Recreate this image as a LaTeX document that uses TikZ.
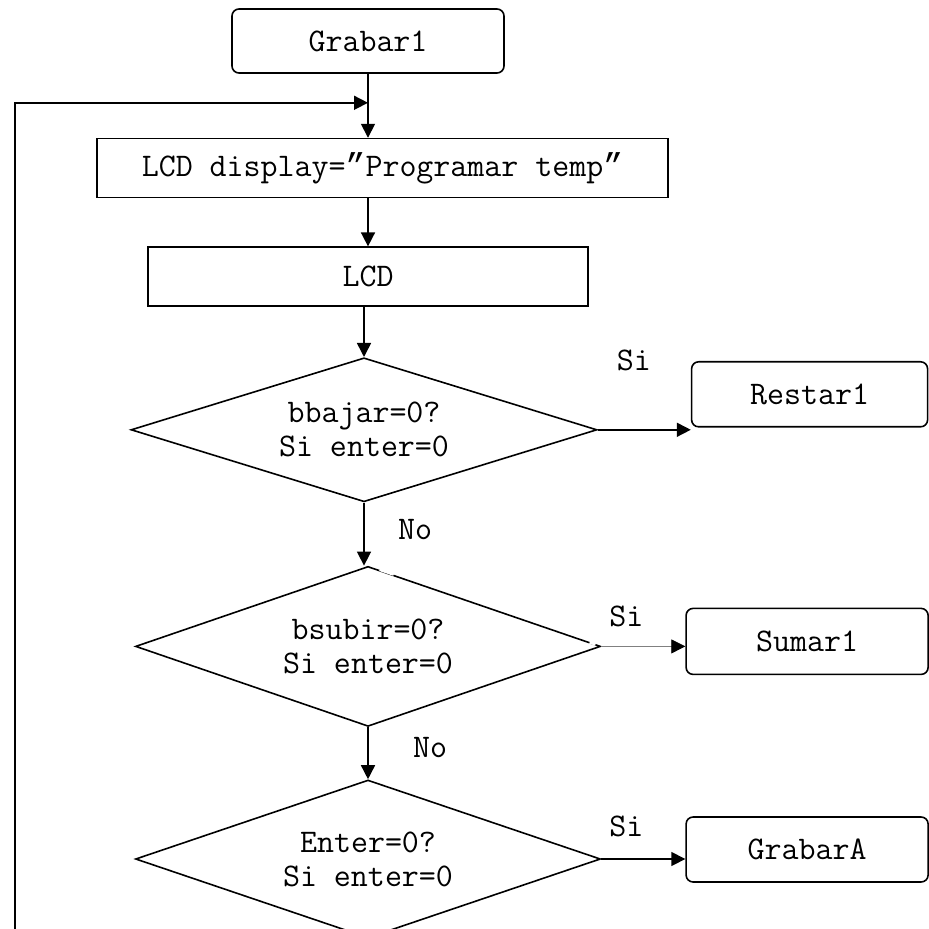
\documentclass[tikz,border=0pt]{standalone}
\usepackage{fontspec}
\newfontfamily\quotefont{Liberation Mono}
\usetikzlibrary{arrows.meta,positioning,shapes.geometric,calc}
\newcommand{\chartfont}{\ttfamily\fontsize{16.5pt}{17pt}\selectfont}
\newcommand{\dispquote}{{\quotefont ”}}

\begin{document}
\begin{tikzpicture}[
  x=0.5pt, y=-0.5pt,
  line width=0.8pt,
  term/.style={draw, rounded corners=3.5pt, align=center, inner sep=0pt, font=\chartfont},
  proc/.style={draw, align=center, inner sep=0pt, font=\chartfont},
  cond/.style={draw, diamond, align=center, inner xsep=-40pt, inner ysep=-14pt, font=\chartfont},
  lbl/.style={inner sep=0pt, font=\chartfont},
  arr/.style={-{Triangle[length=7pt,width=7pt]}},
  arrthin/.style={-{Triangle[length=7pt,width=7pt,color=black]}, line width=0.4pt, gray}
]
\useasboundingbox (0,0) rectangle (928,929);

\node[term, minimum width=136pt, minimum height=32pt] (grab1) at (368,41) {Grabar1};
\node[proc, minimum width=285.5pt, minimum height=29.5pt, below=32pt of grab1, xshift=7.25pt] (lcdmsg) {LCD display=\dispquote Programar temp\dispquote};
\node[proc, minimum width=220pt, minimum height=29.5pt, below=24pt of lcdmsg, xshift=-7.25pt] (lcd) {LCD};
\node[cond, minimum width=233pt, minimum height=72pt, below=25pt of lcd, xshift=-2pt] (dia1) {bbajar=0?\\Si enter=0};
\node[cond, minimum width=232.5pt, minimum height=80pt, below=31.5pt of dia1, xshift=2pt] (dia2) {bsubir=0?\\Si enter=0};
\node[cond, minimum width=232.5pt, minimum height=79pt, below=26pt of dia2] (dia3) {Enter=0?\\Si enter=0};

\node[term, minimum width=118pt, minimum height=32.5pt, right=46.5pt of dia1, yshift=17.75pt] (restar) {Restar1};
\node[term, minimum width=121pt, minimum height=33pt, right=42pt of dia2, yshift=2.5pt] (sumar) {Sumar1};
\node[term, minimum width=121pt, minimum height=32.5pt, right=42pt of dia3, yshift=4.75pt] (grabA) {GrabarA};

\coordinate[below=14.5pt of grab1.south] (merge);
\coordinate (loopfoot) at (15,929);

\draw[arr] (grab1) -- (grab1.south |- lcdmsg.north);
\draw[arr] (loopfoot) |- (merge);
\draw[arr] (lcdmsg.south -| lcd.north) -- (lcd);
\draw[arr] (lcd.south -| dia1.north) -- (dia1);
\draw[arr] (dia1) -- node[lbl, xshift=25.5pt, yshift=2.25pt] (no1) {No} (dia1.south |- dia2.north);
\draw[arr] (dia2) -- node[lbl, xshift=31pt, yshift=3pt] (no2) {No} (dia3);
\draw[arr] (dia1.east) -- node[lbl, xshift=-5.25pt, yshift=34.5pt] (si1) {Si} (dia1.east -| restar.west);
\draw[arrthin] (dia2.east) -- node[lbl, black, xshift=-8.5pt, yshift=15pt] (si2) {Si} (dia2.east -| sumar.west);
\draw[arr] (dia3.east) -- node[lbl, xshift=-8.5pt, yshift=16.5pt] (si3) {Si} (dia3.east -| grabA.west);

\draw[white, line width=1.4pt] ($(dia2.north)!0.05!(dia2.east)$) -- ($(dia2.north)!0.11!(dia2.east)$);
\draw[white, line width=1.4pt] ($(dia2.north)!0.95!(dia2.east)$) -- ($(dia2.north)!0.975!(dia2.east)$);
\end{tikzpicture}
\end{document}
